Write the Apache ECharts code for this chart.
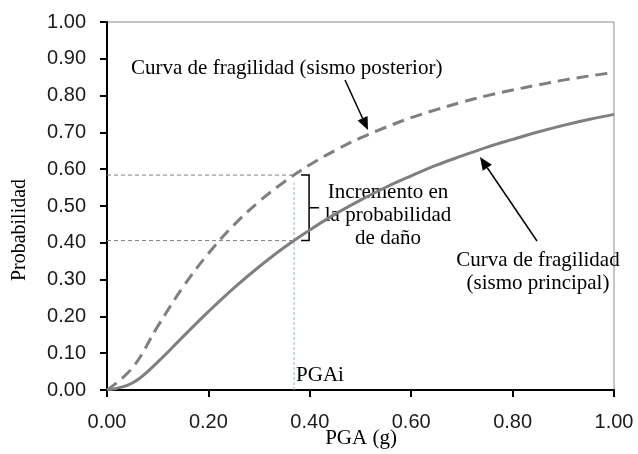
<!DOCTYPE html>
<html>
<head>
<meta charset="utf-8">
<script src="https://cdn.jsdelivr.net/npm/echarts@6/dist/echarts.min.js"></script>
<style>
  html, body { margin: 0; padding: 0; background: #fff; }
  #fragility_chart { width: 638px; height: 454px; }
</style>
</head>
<body>
<div id="fragility_chart"></div>
<script>
// PGA (g) sample points shared by both curves
const pga = [0, 0.05, 0.1, 0.15, 0.2, 0.25, 0.3, 0.35, 0.4, 0.45, 0.5, 0.55, 0.6, 0.65, 0.7, 0.75, 0.8, 0.85, 0.9, 0.95, 1.0];
// curva de fragilidad, sismo principal (solid)
const probMain = [0, 0.019, 0.076, 0.145, 0.213, 0.277, 0.335, 0.388, 0.435, 0.478, 0.516, 0.551, 0.582, 0.611, 0.636, 0.660, 0.681, 0.701, 0.719, 0.735, 0.749];
// curva de fragilidad, sismo posterior (dashed)
const probPost = [0, 0.060, 0.173, 0.280, 0.371, 0.448, 0.512, 0.566, 0.612, 0.651, 0.685, 0.714, 0.740, 0.762, 0.782, 0.800, 0.815, 0.829, 0.842, 0.853, 0.863];
// PGAi and the probabilities read on each curve
const pgaI = 0.369;
const probMainI = 0.406;
const probPostI = 0.584;

const serif = '"Liberation Serif", "Times New Roman", serif';
const sans = '"Liberation Sans", Arial, sans-serif';
const curveColor = '#7f7f7f';

const chart = echarts.init(document.getElementById('fragility_chart'));

const pairs = (xs, ys) => xs.map((x, i) => [x, ys[i]]);

const option = {
    animation: false,
    grid: {
        left: 107, right: 24, top: 22, bottom: 64,
        outerBoundsMode: 'none',
        show: true, borderColor: '#8c8c8c', borderWidth: 1
    },
    xAxis: {
        type: 'value', min: 0, max: 1, interval: 0.2,
        axisLine: { lineStyle: { color: '#000', width: 2 } },
        axisTick: { show: true, length: 7, lineStyle: { color: '#000', width: 2 } },
        axisLabel: { margin: 22, fontFamily: sans, fontSize: 20, color: '#1a1a1a',
            formatter: v => v.toFixed(2) },
        splitLine: { show: false }
    },
    yAxis: {
        type: 'value', min: 0, max: 1, interval: 0.1,
        axisLine: { show: true, lineStyle: { color: '#000', width: 2 } },
        axisTick: { show: true, length: 7, lineStyle: { color: '#000', width: 2 } },
        axisLabel: { margin: 21, fontFamily: sans, fontSize: 20, color: '#1a1a1a',
            formatter: v => v.toFixed(2) },
        splitLine: { show: false }
    },
    series: [
        {
            name: 'sismo principal', type: 'line', smooth: 0.4,
            symbol: 'none', data: pairs(pga, probMain), z: 5,
            lineStyle: { color: curveColor, width: 3 }
        },
        {
            name: 'sismo posterior', type: 'line', smooth: 0.4,
            symbol: 'none', data: pairs(pga, probPost), z: 5,
            lineStyle: { color: curveColor, width: 3, type: [12, 7] }
        },
        {
            type: 'line', symbol: 'none', z: 3,
            data: [[0, probPostI], [pgaI, probPostI]],
            lineStyle: { color: '#808080', width: 1, type: [4, 3] }
        },
        {
            type: 'line', symbol: 'none', z: 3,
            data: [[0, probMainI], [pgaI, probMainI]],
            lineStyle: { color: '#808080', width: 1, type: [4, 3] }
        },
        {
            type: 'line', symbol: 'none', z: 3,
            data: [[pgaI, 0], [pgaI, probPostI - 0.02]],
            lineStyle: { color: '#8db3c7', width: 1, type: [3, 2] }
        }
    ]
};
chart.setOption(option);

// annotations
function arrow(x1, y1, x2, y2) {
    const a = Math.atan2(y2 - y1, x2 - x1);
    const len = 13, half = 5.5;
    const bx = x2 - len * Math.cos(a), by = y2 - len * Math.sin(a);
    const px = -Math.sin(a) * half, py = Math.cos(a) * half;
    return [
        { type: 'line', shape: { x1: x1, y1: y1, x2: bx, y2: by }, style: { stroke: '#000', lineWidth: 1.5 } },
        { type: 'polygon', shape: { points: [[x2, y2], [bx + px, by + py], [bx - px, by - py]] }, style: { fill: '#000' } }
    ];
}
function label(text, x, y, align, size) {
    return { type: 'text', x: x, y: y, style: {
        text: text, font: (size || 21) + 'px ' + serif, fill: '#000',
        align: align || 'left', verticalAlign: 'middle', lineHeight: 23
    } };
}

const braceTop = chart.convertToPixel({ seriesIndex: 0 }, [pgaI, probPostI]);
const braceBot = chart.convertToPixel({ seriesIndex: 0 }, [pgaI, probMainI]);
const bx0 = braceTop[0] + 7, bx1 = braceTop[0] + 15, mid = (braceTop[1] + braceBot[1]) / 2;

chart.setOption({
    graphic: [
        // axis titles
        { type: 'text', x: 20, y: 230, rotation: Math.PI / 2, style: {
            text: 'Probabilidad', font: '20px ' + serif, fill: '#000',
            align: 'center', verticalAlign: 'middle'
        } },
        label('PGA (g)', 361, 438, 'center'),
        label('Curva de fragilidad (sismo posterior)', 131, 68),
        label('Incremento en\nla probabilidad\nde daño', 388, 215, 'center'),
        label('Curva de fragilidad\n(sismo principal)', 538, 272, 'center'),
        label('PGAi', braceBot[0] + 2, 375),
        { type: 'polyline', shape: { points: [
            [bx0, braceTop[1]], [bx1, braceTop[1]], [bx1, mid], [bx1 + 10, mid], [bx1, mid], [bx1, braceBot[1]], [bx0, braceBot[1]]
        ] }, style: { stroke: '#000', lineWidth: 1.5, fill: null } },
        ...arrow(345, 80, 368, 130),
        ...arrow(537, 241, 480, 157)
    ]
});

window.addEventListener('resize', function () {
    chart.resize();
});
</script>
</body>
</html>
